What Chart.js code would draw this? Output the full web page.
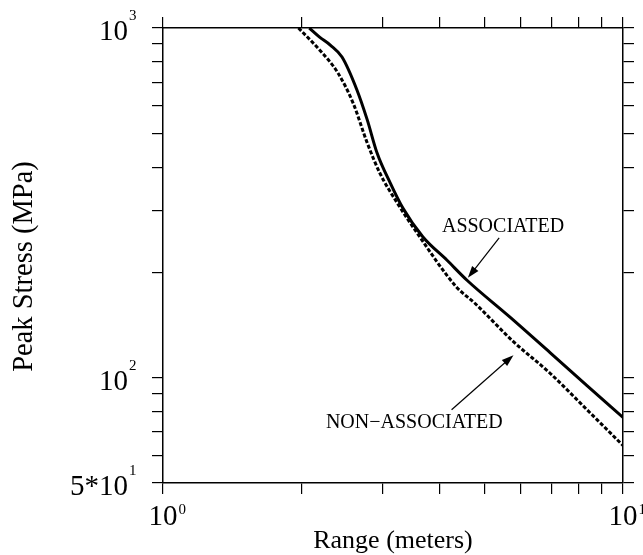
<!doctype html>
<html lang="en">
<head>
<meta charset="utf-8"/>
<title>Peak Stress vs Range</title>
<script src="https://cdn.jsdelivr.net/npm/chart.js"></script>
<style>
*{box-sizing:border-box}
html,body{margin:0;padding:0;background:#fff}
.wrap{width:643px;height:555px;position:relative}
</style>
</head>
<body>
<div class="wrap"><canvas id="chart"></canvas></div>
<script>
// values (range in meters, peak stress in MPa)
const assocRange = [2.08, 2.19, 2.31, 2.45, 2.64, 2.78, 2.92, 3.12, 3.32, 3.67, 4.14, 4.58, 5.68, 6.94, 8.35, 10];
const assocStress = [1000, 942, 894, 826, 665, 546, 439, 360, 306, 253, 217, 190, 149, 118, 95, 77];

const nonAssocRange = [1.97, 2.19, 2.40, 2.59, 2.78, 2.96, 3.23, 3.57, 4.34, 4.77, 5.77, 6.94, 8.35, 10];
const nonAssocStress = [1000, 865, 744, 610, 469, 385, 316, 259, 182, 163, 127, 103, 81, 64];

// tick positions (decade + minor ticks) and the labelled ones
const xTicks = [1, 2, 3, 4, 5, 6, 7, 8, 9, 10];
const yTicks = [50, 60, 70, 80, 90, 100, 200, 300, 400, 500, 600, 700, 800, 900, 1000];
const xTickValues = [1, 10];
const xTickBase = ['10', '10'];
const xTickSup = ['0', '1'];
const yTickValues = [50, 100, 1000];
const yTickBase = ['5*10', '10', '10'];
const yTickSup = ['1', '2', '3'];

// annotations: label anchor, arrow tail, arrow head (data coords)
const assocNote = {text: 'ASSOCIATED', at: [4.04, 261], tail: [5.38, 251], head: [4.60, 193]};
const nonAssocNote = {text: 'NON\u2212ASSOCIATED', at: [2.26, 71.8], tail: [4.24, 81], head: [5.78, 116]};

const SERIF = '"Liberation Serif", "DejaVu Serif", serif';

function pts(xs, ys){ return xs.map((x,i)=>({x:x, y:ys[i]})); }

function logAxis(axis, pos, min, max, size, tickVals){
  return {
    type: 'logarithmic', axis: axis, position: pos, min: min, max: max,
    ticks: { display:false, autoSkip:false },
    afterBuildTicks: s => { s.ticks = tickVals.map(v => ({value:v})); },
    grid: { drawOnChartArea:false, drawTicks:true, tickLength:11, color:'#000', lineWidth:1.2 },
    border: { display:true, color:'#000', width:1.5 },
    afterFit: s => { if (axis === 'x') s.height = size; else s.width = size; }
  };
}

function arrow(ctx, x0, y0, x1, y1){
  const a = Math.atan2(y1-y0, x1-x0), L = 12, W = 4;
  ctx.beginPath(); ctx.moveTo(x0,y0); ctx.lineTo(x1 - Math.cos(a)*L*0.8, y1 - Math.sin(a)*L*0.8); ctx.stroke();
  ctx.beginPath();
  ctx.moveTo(x1, y1);
  ctx.lineTo(x1 - Math.cos(a)*L + Math.sin(a)*W, y1 - Math.sin(a)*L - Math.cos(a)*W);
  ctx.lineTo(x1 - Math.cos(a)*L - Math.sin(a)*W, y1 - Math.sin(a)*L + Math.cos(a)*W);
  ctx.closePath(); ctx.fill();
}

const textPlugin = {
  id: 'texts',
  afterDraw(chart){
    const ctx = chart.ctx, xs = chart.scales.x, ys = chart.scales.y, ca = chart.chartArea;
    ctx.save();
    ctx.fillStyle = '#000'; ctx.strokeStyle = '#000';
    ctx.textBaseline = 'alphabetic';

    // y tick labels, base right aligned, superscript after it
    yTickValues.forEach((v,i) => {
      const py = ys.getPixelForValue(v);
      ctx.font = '29px ' + SERIF; ctx.textAlign = 'right';
      ctx.fillText(yTickBase[i], ca.left - 35, py + 12);
      ctx.font = '15px ' + SERIF; ctx.textAlign = 'left';
      ctx.fillText(yTickSup[i], ca.left - 34, py - 8);
    });

    // x tick labels
    xTickValues.forEach((v,i) => {
      const px = xs.getPixelForValue(v);
      ctx.font = '29px ' + SERIF; ctx.textAlign = 'center';
      ctx.fillText(xTickBase[i], px, ca.bottom + 42);
      const w = ctx.measureText(xTickBase[i]).width;
      ctx.font = '15px ' + SERIF; ctx.textAlign = 'left';
      ctx.fillText(xTickSup[i], px + w/2 + 1, ca.bottom + 31);
    });

    // axis titles
    ctx.font = '26px ' + SERIF; ctx.textAlign = 'center';
    ctx.fillText('Range (meters)', (ca.left + ca.right)/2, ca.bottom + 65);
    ctx.save();
    ctx.translate(25, (ca.top + ca.bottom)/2 + 11);
    ctx.rotate(-Math.PI/2);
    ctx.font = '28.5px ' + SERIF; ctx.textBaseline = 'middle';
    ctx.fillText('Peak Stress (MPa)', 0, 0);
    ctx.restore();

    // annotations
    ctx.font = '20px ' + SERIF; ctx.textAlign = 'left'; ctx.textBaseline = 'alphabetic';
    ctx.lineWidth = 1.2;
    [assocNote, nonAssocNote].forEach(n => {
      ctx.fillText(n.text, xs.getPixelForValue(n.at[0]), ys.getPixelForValue(n.at[1]));
      arrow(ctx, xs.getPixelForValue(n.tail[0]), ys.getPixelForValue(n.tail[1]),
                 xs.getPixelForValue(n.head[0]), ys.getPixelForValue(n.head[1]));
    });
    ctx.restore();
  }
};

new Chart(document.getElementById('chart'), {
  type: 'line',
  data: {
    datasets: [
      { label:'ASSOCIATED', data: pts(assocRange, assocStress), borderColor:'#000', borderWidth:3,
        pointRadius:0, cubicInterpolationMode:'monotone', fill:false },
      { label:'NON-ASSOCIATED', data: pts(nonAssocRange, nonAssocStress), borderColor:'#000', borderWidth:3,
        borderDash:[4,2], pointRadius:0, cubicInterpolationMode:'monotone', fill:false }
    ]
  },
  options: {
    responsive:true, maintainAspectRatio:false, animation:false,
    layout:{ padding:0 },
    plugins:{ legend:{ display:false }, tooltip:{ enabled:false } },
    scales:{
      x: logAxis('x', 'bottom', 1, 10, 72, xTicks),
      x2: logAxis('x', 'top', 1, 10, 28, xTicks),
      y: logAxis('y', 'left', 50, 1000, 163, yTicks),
      y2: logAxis('y', 'right', 50, 1000, 20, yTicks)
    }
  },
  plugins:[textPlugin]
});
</script>
</body>
</html>
